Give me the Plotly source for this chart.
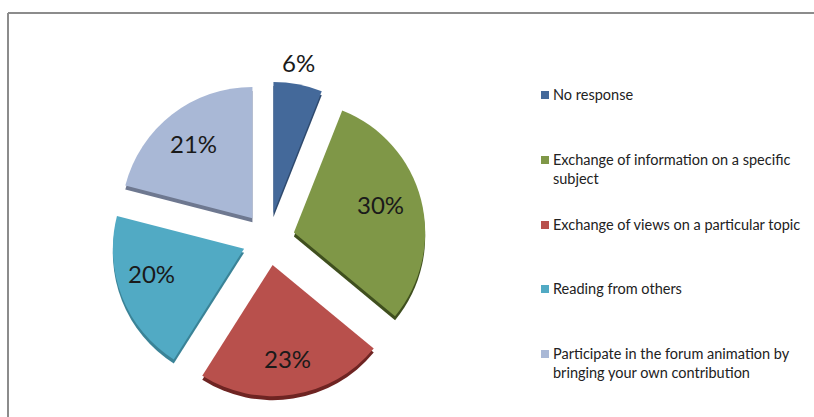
import plotly.graph_objects as go

W, H = 814, 417
categories = ["No response", "Exchange of information on a specific subject",
              "Exchange of views on a particular topic", "Reading from others",
              "Participate in the forum animation by bringing your own contribution"]
legend_lines = ["No response", "Exchange of information on a specific<br>subject",
                "Exchange of views on a particular topic", "Reading from others",
                "Participate in the forum animation by<br>bringing your own contribution"]
values = [6, 30, 23, 20, 21]
colors = ["#44699A", "#7F9747", "#B8504C", "#51AAC4", "#A9B8D6"]
side_colors = ["#2F4A6E", "#3F4F1E", "#6E2422", "#3A8397", "#6E7890"]
pulls = [0.2] * 5
legend_y = [95, 160, 225, 289, 354]
label_x = [298, 380, 287, 151, 193]
label_y = [63, 204, 358, 273, 143]

cx, cy, d = 268.5, 239, 315


def dom(cx, cy):
    return dict(x=[(cx - d / 2) / W, (cx + d / 2) / W],
                y=[1 - (cy + d / 2) / H, 1 - (cy - d / 2) / H])


fig = go.Figure()
fig.add_trace(go.Pie(values=values, labels=categories, sort=False, direction="clockwise",
                     rotation=0, pull=pulls, domain=dom(cx, cy + 4), textinfo="none",
                     marker=dict(colors=side_colors, line=dict(width=0)), showlegend=False))
fig.add_trace(go.Pie(values=values, labels=categories, sort=False, direction="clockwise",
                     rotation=0, pull=pulls, domain=dom(cx, cy), textinfo="none",
                     marker=dict(colors=colors, line=dict(width=0)), showlegend=False))

shapes = [
    dict(type="line", xref="paper", yref="paper", x0=8 / W, x1=8 / W, y0=0, y1=1 - 13 / H,
         line=dict(color="#8C8C8C", width=2)),
    dict(type="line", xref="paper", yref="paper", x0=8 / W, x1=1, y0=1 - 13 / H, y1=1 - 13 / H,
         line=dict(color="#8C8C8C", width=2)),
]
annotations = []
for y, c, t in zip(legend_y, colors, legend_lines):
    shapes.append(dict(type="rect", xref="paper", yref="paper", x0=541 / W, x1=549 / W,
                       y0=1 - (y + 4) / H, y1=1 - (y - 4) / H, fillcolor=c, line=dict(width=0)))
    annotations.append(dict(xref="paper", yref="paper", x=551 / W, y=1 - (y - 11) / H, text=t,
                            showarrow=False, xanchor="left", yanchor="top", align="left",
                            font=dict(family="Lato, sans-serif", size=14.5, color="#222222")))
for v, x, y in zip(values, label_x, label_y):
    annotations.append(dict(xref="paper", yref="paper", x=x / W, y=1 - y / H, text=f"{v}%",
                            showarrow=False, xanchor="center", yanchor="middle",
                            font=dict(family="Lato, sans-serif", size=24, color="#1a1a1a")))

fig.update_layout(width=W, height=H, margin=dict(l=0, r=0, t=0, b=0, autoexpand=False),
                  paper_bgcolor="white", shapes=shapes, annotations=annotations, showlegend=False)
fig.write_html("out.html", config={"displayModeBar": False},
               post_script="document.body.style.margin='0';document.documentElement.style.overflow='hidden';")
